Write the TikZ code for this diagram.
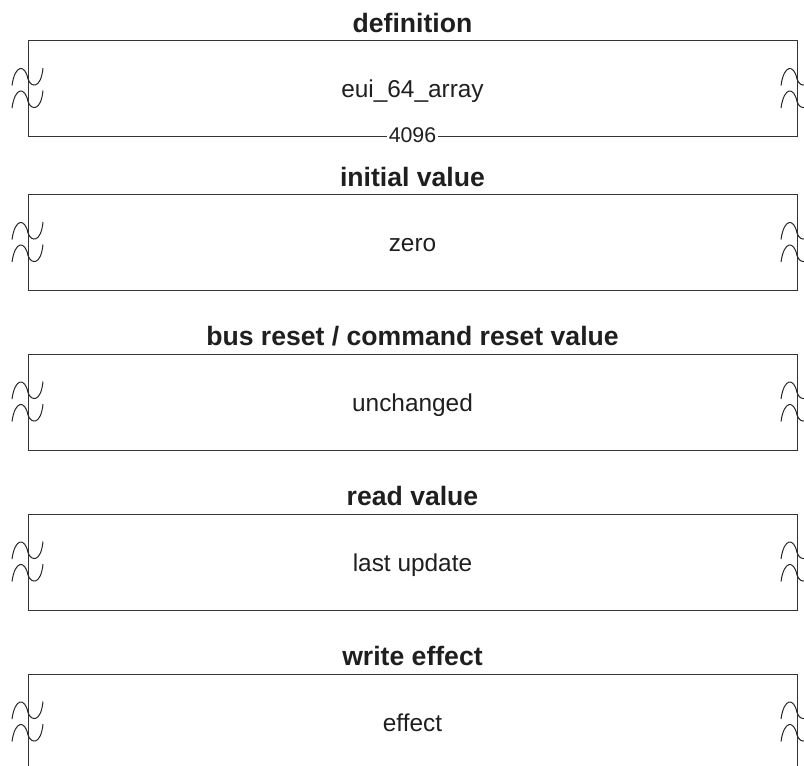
\documentclass[tikz,border=0pt]{standalone}
\usepackage{fontspec}
\setmainfont{Liberation Sans}
\usetikzlibrary{positioning}

\tikzset{
  frame/.style={draw=black!80, line width=1pt},
  title/.style={font=\fontsize{26.6}{30}\selectfont\bfseries, text=black!88, anchor=base, inner sep=0pt},
  field/.style={font=\fontsize{24.4}{28}\selectfont, text=black!88, anchor=base, inner sep=0pt},
  count/.style={font=\fontsize{21.3}{24}\selectfont, text=black!88, fill=white, inner sep=1.5pt},
  breakmark/.style={draw=black!85, line width=1pt},
  wave/.pic={
    \draw[breakmark] (-16,8.5) .. controls (-13,-13) and (-3,-13) .. (0,2)
                            .. controls (3,11) and (13,12) .. (15,-9);
  }
}

\begin{document}
\begin{tikzpicture}[x=1pt, y=-1pt]
  \useasboundingbox (0,0) rectangle (804,766);

  \foreach \i/\top/\ttl/\val in {0/40.5/{definition}/{eui\_64\_array},
                                 1/194.5/{initial value}/{zero},
                                 2/354/{bus reset / command reset value}/{unchanged},
                                 3/514/{read value}/{last update},
                                 4/674/{write effect}/{effect}} {
    \draw[frame] (28,\top) rectangle (797,\top+96);
    \node[title] (ttl\i) at (412.5,\top-8.5) {\ttl};
    \node[field] (val\i) at (412.5,\top+57) {\val};
    % break marks on both sides
    \pic at (28,\top+36.5) {wave};
    \pic at (28,\top+59) {wave};
    \pic at (797,\top+36.5) {wave};
    \pic at (797,\top+59) {wave};
  }

  \node[count] (size) at (412.5,135) {4096};
\end{tikzpicture}
\end{document}
